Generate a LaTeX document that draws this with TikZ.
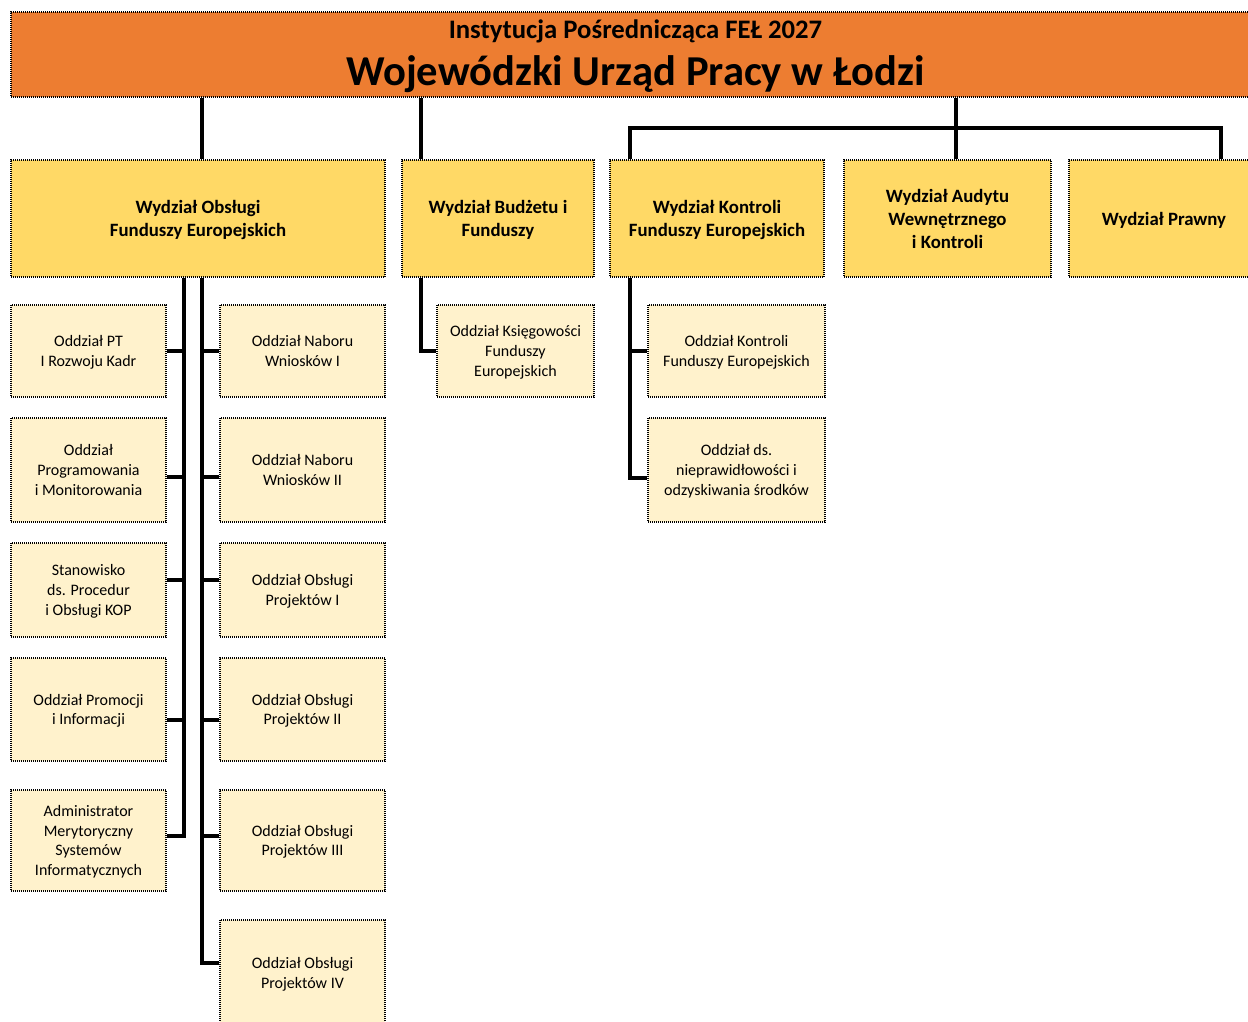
\documentclass[tikz,border=0pt]{standalone}
\usepackage{fontspec}
\setmainfont{Carlito}
\usetikzlibrary{positioning}
\definecolor{headorange}{HTML}{ED7D31}
\definecolor{deptyellow}{HTML}{FFD966}
\definecolor{unitcream}{HTML}{FFF2CC}

\begin{document}
\begin{tikzpicture}[x=1pt, y=-1pt,
    every node/.style = {inner sep=2pt, align=center},
    frame/.style = {draw=black, line width=1.3pt, dash pattern=on 1pt off 1pt},
    head/.style = {frame, fill=headorange, minimum width=1249pt, minimum height=85pt},
    dept/.style = {frame, fill=deptyellow, minimum height=117pt, text depth=-1pt,
                   font=\fontsize{18.8}{23}\selectfont\bfseries},
    unit/.style = {frame, fill=unitcream, text depth=-1pt,
                   font=\fontsize{16}{19.7}\selectfont},
    colL/.style = {unit, minimum width=155pt},
    colR/.style = {unit, minimum width=165pt},
    conn/.style = {line width=3.6pt, draw=black}
  ]
\useasboundingbox (0,0) rectangle (1248,1021);
%
\node[head] (wup) at (635.5,54.5) {};
\node[font=\fontsize{26.7}{30}\selectfont\bfseries] (ipfel) at (635.5,31) {Instytucja Pośrednicząca FEŁ 2027};
\node[font=\fontsize{42.6}{46}\selectfont\bfseries] (wupname) at (635.5,74) {Wojewódzki Urząd Pracy w Łodzi};
%
\node[dept, minimum width=374pt] (wofe) at (198,218.5) {Wydział Obsługi\\Funduszy Europejskich};
\node[dept, minimum width=192pt] (wbf)  at (498,218.5) {Wydział Budżetu i\\Funduszy};
\node[dept, minimum width=214pt] (wkfe) at (717,218.5) {Wydział Kontroli\\Funduszy Europejskich};
\node[dept, minimum width=207pt] (wawk) at (947.5,218.5) {Wydział Audytu\\Wewnętrznego\\i Kontroli};
\node[dept, minimum width=190pt] (wp)   at (1164,218.5) {Wydział Prawny};
%
\node[colL, minimum height=92pt]  (pt)   at (88.5,351)   {Oddział PT\\I Rozwoju Kadr};
\node[colL, minimum height=104pt] (prog) at (88.5,470)   {Oddział\\Programowania\\i Monitorowania};
\node[colL, minimum height=94pt]  (kop)  at (88.5,590)   {Stanowisko\\ds. Procedur\\i Obsługi KOP};
\node[colL, minimum height=103pt] (prom) at (88.5,709.5) {Oddział Promocji\\i Informacji};
\node[colL, minimum height=101pt] (adm)  at (88.5,840.5) {Administrator\\Merytoryczny\\Systemów\\Informatycznych};
%
\node[colR, minimum height=92pt]  (nab1) at (302.5,351)   {Oddział Naboru\\Wniosków I};
\node[colR, minimum height=104pt] (nab2) at (302.5,470)   {Oddział Naboru\\Wniosków II};
\node[colR, minimum height=94pt]  (obs1) at (302.5,590)   {Oddział Obsługi\\Projektów I};
\node[colR, minimum height=103pt] (obs2) at (302.5,709.5) {Oddział Obsługi\\Projektów II};
\node[colR, minimum height=101pt] (obs3) at (302.5,840.5) {Oddział Obsługi\\Projektów III};
\node[colR, minimum height=106pt] (obs4) at (302.5,973)   {Oddział Obsługi\\Projektów IV};
%
\node[unit, minimum width=157pt, minimum height=92pt]  (ksieg) at (515.5,351) {Oddział Księgowości\\Funduszy\\Europejskich};
\node[unit, minimum width=177pt, minimum height=92pt]  (kfe)   at (736.5,351) {Oddział Kontroli\\Funduszy Europejskich};
\node[unit, minimum width=177pt, minimum height=104pt] (niepr) at (736.5,470) {Oddział ds.\\nieprawidłowości i\\odzyskiwania środków};
%
\coordinate (xL) at (184,0);
\coordinate (xA) at (202,0);
\coordinate (xB) at (421,0);
\coordinate (xK) at (630,0);
\coordinate (xC) at (956,128);
\coordinate (xP) at (1221,0);
%
\draw[conn] (wup.south -| xA) -- (wofe.north -| xA);
\draw[conn] (wup.south -| xB) -- (wbf.north -| xB);
\draw[conn] (wup.south -| xC) -- (wawk.north -| xC);
\draw[conn] (wkfe.north -| xK) |- (xC) -| (wp.north -| xP);
%
\draw[conn] (wofe.south -| xL) |- (pt.east);
\draw[conn] (wofe.south -| xL) |- ([yshift=-7pt] prog.east);
\draw[conn] (wofe.south -| xL) |- ([yshift=10pt] kop.east);
\draw[conn] (wofe.south -| xL) |- ([yshift=-10.5pt] prom.east);
\draw[conn] (wofe.south -| xL) |- ([yshift=4.5pt] adm.east);
%
\draw[conn] (wofe.south -| xA) |- (nab1.west);
\draw[conn] (wofe.south -| xA) |- ([yshift=-7pt] nab2.west);
\draw[conn] (wofe.south -| xA) |- ([yshift=10pt] obs1.west);
\draw[conn] (wofe.south -| xA) |- ([yshift=-10.5pt] obs2.west);
\draw[conn] (wofe.south -| xA) |- ([yshift=4.5pt] obs3.west);
\draw[conn] (wofe.south -| xA) |- ([yshift=10pt] obs4.west);
%
\draw[conn] (wbf.south -| xB) |- (ksieg.west);
\draw[conn] (wkfe.south -| xK) |- (kfe.west);
\draw[conn] (wkfe.south -| xK) |- ([yshift=-8pt] niepr.west);
\end{tikzpicture}
\end{document}
